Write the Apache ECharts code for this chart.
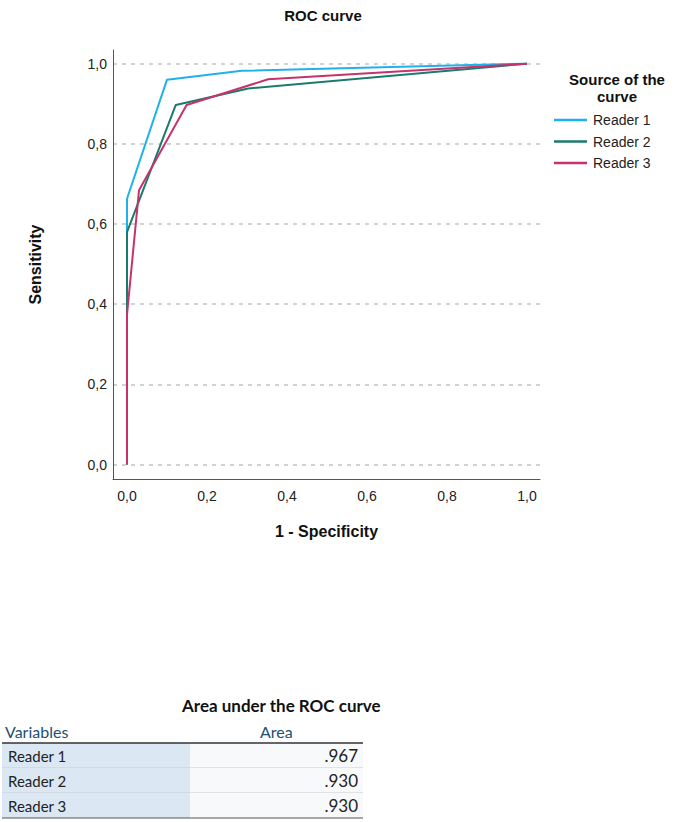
<!DOCTYPE html>
<html>
<head>
<meta charset="utf-8">
<script src="https://cdn.jsdelivr.net/npm/echarts@6/dist/echarts.min.js"></script>
<style>
  html, body { margin: 0; padding: 0; background: #fff; }
  #chart { width: 675px; height: 822px; }
</style>
</head>
<body>
<div id="chart"></div>
<script>
// ROC curve points, [1 - specificity, sensitivity]
const readerNames = ['Reader 1', 'Reader 2', 'Reader 3'];
const reader1 = [[0, 0], [0, 0.663], [0.10, 0.96], [0.287, 0.982], [1, 1]];
const reader2 = [[0, 0], [0, 0.58], [0.122, 0.897], [0.303, 0.938], [1, 1]];
const reader3 = [[0, 0], [0, 0.374], [0.03, 0.684], [0.149, 0.897], [0.353, 0.961], [1, 1]];
const tickValues = [0, 0.2, 0.4, 0.6, 0.8, 1.0];
const areaValues = [0.967, 0.930, 0.930];

const lineColors = ['#1fb1ea', '#1b7a6e', '#c4336b'];
const chartFont = 'Liberation Sans, Arial, sans-serif';
const narrowFont = '"Liberation Sans Narrow", "Arial Narrow", "Liberation Sans", sans-serif';
const tableFont = 'Lato, sans-serif';

const commaLabel = (v) => v.toFixed(1).replace('.', ',');
const areaLabel = (v) => v.toFixed(3).replace(/^0/, '');

// the little table below the chart, built from readerNames / areaValues
function buildTable() {
  const top = 743;
  const rowH = 25;
  const children = [
    { type: 'text', left: 182, top: 697, style: { text: 'Area under the ROC curve', font: 'bold 17px ' + tableFont, fill: '#111', align: 'center' } },
    { type: 'text', left: 5, top: 723, style: { text: 'Variables', font: '16px ' + tableFont, fill: '#1d4f6e' } },
    { type: 'text', left: 260, top: 723, style: { text: 'Area', font: '16px ' + tableFont, fill: '#1d4f6e' } },
  ];
  readerNames.forEach((name, i) => {
    const y = top + i * rowH;
    children.push(
      { type: 'rect', shape: { x: 2, y: y, width: 188, height: rowH }, style: { fill: '#dbe8f4' } },
      { type: 'rect', shape: { x: 190, y: y, width: 173, height: rowH }, style: { fill: '#f8f9fb' } },
      { type: 'line', shape: { x1: 2, y1: y + rowH, x2: 363, y2: y + rowH }, style: { stroke: i === readerNames.length - 1 ? '#555' : '#c8ccd0', lineWidth: 1 } },
      { type: 'text', x: 8, y: y + rowH / 2, style: { text: name, font: '15px ' + tableFont, fill: '#222', verticalAlign: 'middle' } },
      { type: 'text', x: 358, y: y + rowH / 2, style: { text: areaLabel(areaValues[i]), font: '17px ' + tableFont, fill: '#222', align: 'right', verticalAlign: 'middle' } }
    );
  });
  children.push({ type: 'line', shape: { x1: 2, y1: top, x2: 363, y2: top }, style: { stroke: '#333', lineWidth: 1.5 } });
  return children;
}

const axisCommon = {
  type: 'value',
  min: -0.035,
  axisLine: { show: true, onZero: false, lineStyle: { color: '#555', width: 1 } },
  axisTick: { show: false, customValues: tickValues },
  axisLabel: { customValues: tickValues, formatter: commaLabel, color: '#222', fontSize: 14, fontFamily: chartFont },
  splitLine: { show: false },
  nameLocation: 'middle',
  nameTextStyle: { fontWeight: 'bold', fontSize: 16, color: '#111', fontFamily: chartFont },
};

const chart = echarts.init(document.getElementById('chart'), null, { renderer: 'svg' });

chart.setOption({
  backgroundColor: '#fff',
  animation: false,
  title: [
    { text: 'ROC curve', left: 318, top: 3, textAlign: 'center', textStyle: { fontSize: 15, fontWeight: 'bold', color: '#111', fontFamily: chartFont } },
    { text: 'Source of the\ncurve', left: 612, top: 66, textAlign: 'center', textStyle: { fontSize: 15, fontWeight: 'bold', color: '#111', lineHeight: 17, fontFamily: chartFont } },
  ],
  legend: {
    orient: 'vertical',
    left: 549,
    top: 108,
    icon: 'rect',
    itemWidth: 33,
    itemHeight: 2.5,
    itemGap: 7.5,
    textStyle: { fontSize: 14, color: '#222', fontFamily: narrowFont, padding: [0, 0, 0, 1] },
    data: readerNames,
  },
  grid: { left: 113, right: 135, top: 50, bottom: 343 },
  xAxis: Object.assign({}, axisCommon, {
    max: 1.0325,
    name: '1 - Specificity',
    nameGap: 44,
    axisLabel: Object.assign({}, axisCommon.axisLabel, { margin: 10 }),
  }),
  yAxis: Object.assign({}, axisCommon, {
    min: -0.036,
    max: 1.034,
    name: 'Sensitivity',
    nameGap: 70,
    nameRotate: 90,
    axisLabel: Object.assign({}, axisCommon.axisLabel, { margin: 6 }),
    splitLine: { show: true, lineStyle: { color: '#c4c4c4', type: [4, 5], width: 1.5 } },
  }),
  series: [reader1, reader2, reader3].map((pts, i) => ({
    name: readerNames[i],
    type: 'line',
    data: pts,
    symbol: 'none',
    color: lineColors[i],
    lineStyle: { width: 2, color: lineColors[i] },
  })),
  graphic: buildTable(),
});
</script>
</body>
</html>
